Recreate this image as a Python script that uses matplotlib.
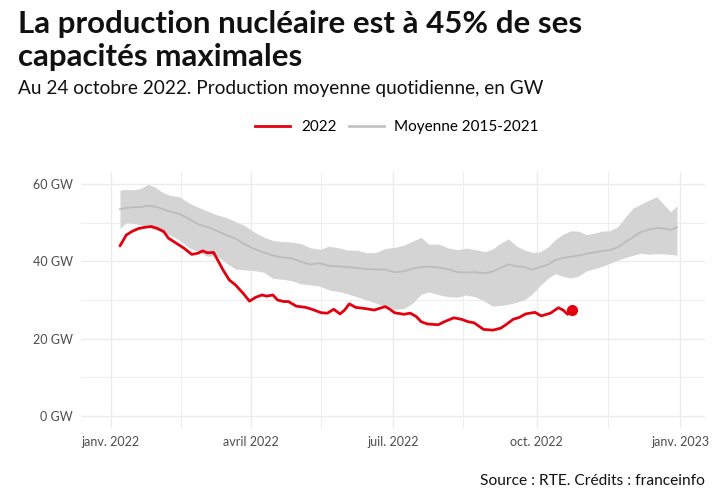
import matplotlib
matplotlib.use("Agg")
import matplotlib.pyplot as plt
from matplotlib.lines import Line2D
import numpy as np

plt.rcParams['font.family'] = ['Lato', 'DejaVu Sans']

# 2022 daily production (7-day mean), days since 1 Jan 2022, GW
red_days = [6, 10, 14, 18, 22, 26, 30, 34, 37, 42, 47, 52, 56, 59, 62, 66, 68, 72, 76, 80,
            85, 89, 93, 97, 100, 104, 107, 111, 114, 119, 125, 129, 135, 139, 143, 147, 150, 153, 157, 163,
            169, 176, 179, 182, 188, 192, 196, 199, 203, 210, 214, 220, 225, 229, 233, 239, 245, 250, 253, 258,
            262, 266, 272, 276, 282, 287, 290, 293, 296]
red_vals = [44.0, 46.8, 47.8, 48.5, 48.8, 49.0, 48.5, 47.7, 46.0, 44.7, 43.4, 41.8, 42.1, 42.7, 42.2, 42.3, 40.8, 37.8, 35.2, 33.9,
            31.7, 29.7, 30.7, 31.3, 31.0, 31.3, 30.0, 29.6, 29.6, 28.4, 28.1, 27.6, 26.7, 26.6, 27.6, 26.4, 27.4, 29.0, 28.1, 27.8,
            27.4, 28.3, 27.6, 26.7, 26.3, 26.6, 25.7, 24.4, 23.8, 23.6, 24.4, 25.4, 25.0, 24.4, 24.1, 22.4, 22.2, 22.7, 23.5, 25.0,
            25.5, 26.4, 26.8, 25.9, 26.6, 28.0, 27.4, 26.3, 27.4]

# 2015-2021 envelope (min / mean / max)
band_days = [6, 10, 14, 19, 24, 28, 33, 38, 44, 50, 56, 62, 68, 74, 80, 86, 92, 98, 104, 110,
             116, 122, 128, 134, 140, 146, 152, 158, 164, 170, 176, 182, 188, 194, 199, 204, 210, 216, 222, 228,
             234, 240, 245, 250, 255, 260, 265, 270, 275, 280, 285, 290, 295, 300, 305, 310, 315, 320, 325, 330,
             335, 340, 345, 350, 355, 359, 363]
band_max = [58.4, 58.6, 58.5, 58.8, 59.9, 59.3, 57.9, 57.1, 56.7, 55.1, 54.0, 53.0, 52.0, 51.4, 50.3, 49.2, 47.6, 46.3, 45.4, 45.1,
            45.0, 44.6, 43.5, 43.1, 43.9, 43.5, 42.9, 42.9, 42.2, 42.3, 43.3, 43.6, 44.2, 45.3, 46.2, 44.4, 44.5, 43.5, 43.0, 43.4,
            43.0, 42.5, 43.2, 44.7, 45.8, 44.0, 43.0, 42.3, 42.4, 43.6, 45.6, 47.0, 47.9, 47.8, 46.9, 47.3, 47.8, 47.9, 48.9, 51.5,
            53.8, 54.8, 55.8, 56.7, 54.5, 52.8, 54.4]
band_mean = [53.5, 53.8, 54.0, 54.0, 54.4, 54.2, 53.6, 52.9, 52.3, 51.0, 49.6, 48.9, 47.9, 46.8, 45.9, 44.4, 43.2, 42.3, 41.5, 41.0,
             40.8, 39.9, 39.2, 39.5, 38.8, 38.7, 38.5, 38.3, 38.0, 37.9, 37.9, 37.2, 37.4, 38.2, 38.5, 38.6, 38.4, 38.0, 37.2, 37.1,
             37.2, 36.9, 37.4, 38.3, 39.2, 38.7, 38.6, 37.8, 38.5, 39.1, 40.3, 40.9, 41.2, 41.5, 42.0, 42.3, 42.7, 42.9, 43.6, 45.0,
             46.3, 47.6, 48.2, 48.6, 48.5, 48.1, 48.8]
band_min = [48.5, 50.0, 49.8, 49.5, 48.8, 48.3, 47.6, 46.8, 45.5, 43.6, 42.5, 41.3, 41.5, 39.6, 38.0, 37.8, 37.6, 37.2, 35.6, 35.4,
            35.0, 34.2, 33.9, 33.6, 32.6, 32.2, 31.6, 30.8, 30.0, 29.2, 28.4, 27.6, 27.8, 29.3, 31.5, 32.1, 31.4, 30.9, 30.7, 31.3,
            30.8, 29.6, 28.4, 28.6, 28.9, 29.4, 30.0, 31.5, 33.6, 35.5, 36.8, 36.1, 35.7, 36.2, 37.5, 38.1, 38.7, 39.5, 40.3, 41.0,
            41.6, 42.1, 41.8, 42.0, 41.9, 41.8, 41.6]

x_ticks = ['2022-01-01', '2022-04-01', '2022-07-01', '2022-10-01', '2023-01-01']
x_labels = ['janv. 2022', 'avril 2022', 'juil. 2022', 'oct. 2022', 'janv. 2023']
x_minor = ['2022-02-15', '2022-05-16', '2022-08-15', '2022-11-16']
y_ticks = [0, 20, 40, 60]
y_labels = ['0 GW', '20 GW', '40 GW', '60 GW']

RED = '#e3000f'
BAND = '#d4d4d4'
MEAN = '#bcbcbc'
GRID = '#ebebeb'

start = np.datetime64('2022-01-01')
red_x = start + np.array(red_days).astype('timedelta64[D]')
band_x = start + np.array(band_days).astype('timedelta64[D]')

fig = plt.figure(figsize=(7.2, 5.04), dpi=100)
ax = fig.add_axes([81 / 720, 1 - 428 / 504, 624 / 720, 256 / 504])

ax.fill_between(band_x, band_min, band_max, color=BAND, lw=0, zorder=2)
ax.plot(band_x, band_mean, color=MEAN, lw=1.3, zorder=3)
ax.plot(red_x, red_vals, color=RED, lw=2, zorder=4, solid_capstyle='round')
ax.plot(red_x[-1:], red_vals[-1:], 'o', color=RED, ms=7, zorder=5)

ax.set_xlim(np.datetime64('2021-12-13'), np.datetime64('2023-01-17'))
ax.set_ylim(-3.1, 63.1)
ax.set_xticks(np.array(x_ticks, dtype='datetime64[D]'))
ax.set_xticklabels(x_labels)
ax.set_xticks(np.array(x_minor, dtype='datetime64[D]'), minor=True)
ax.set_yticks(y_ticks)
ax.set_yticklabels(y_labels)
ax.set_yticks([10, 30, 50], minor=True)
ax.grid(True, which='major', color=GRID, lw=1.0, zorder=0)
ax.grid(True, which='minor', color=GRID, lw=0.6, zorder=0)
ax.set_axisbelow(True)
for s in ax.spines.values():
    s.set_visible(False)
ax.tick_params(which='both', length=0, labelsize=9, colors='#4d4d4d', pad=6)

handles = [Line2D([], [], color=RED, lw=2), Line2D([], [], color='#c4c4c4', lw=2)]
fig.legend(handles, ['2022', 'Moyenne 2015-2021'], loc='center', bbox_to_anchor=(397 / 720, 1 - 127 / 504),
           ncol=2, frameon=False, fontsize=11, handlelength=2.3, columnspacing=0.8, handletextpad=0.7)

fig.text(18 / 720, 1 - 10 / 504, "La production nucléaire est à 45% de ses\ncapacités maximales",
         fontsize=22.5, fontweight='bold', va='top', ha='left', color='#111111', linespacing=1.2)
fig.text(18 / 720, 1 - 80 / 504, "Au 24 octobre 2022. Production moyenne quotidienne, en GW",
         fontsize=13.7, va='top', ha='left', color='#111111')
fig.text(705 / 720, 1 - 481 / 504, "Source : RTE. Crédits : franceinfo",
         fontsize=11.2, va='center', ha='right', color='#111111')

fig.savefig('out.png', dpi=100)
